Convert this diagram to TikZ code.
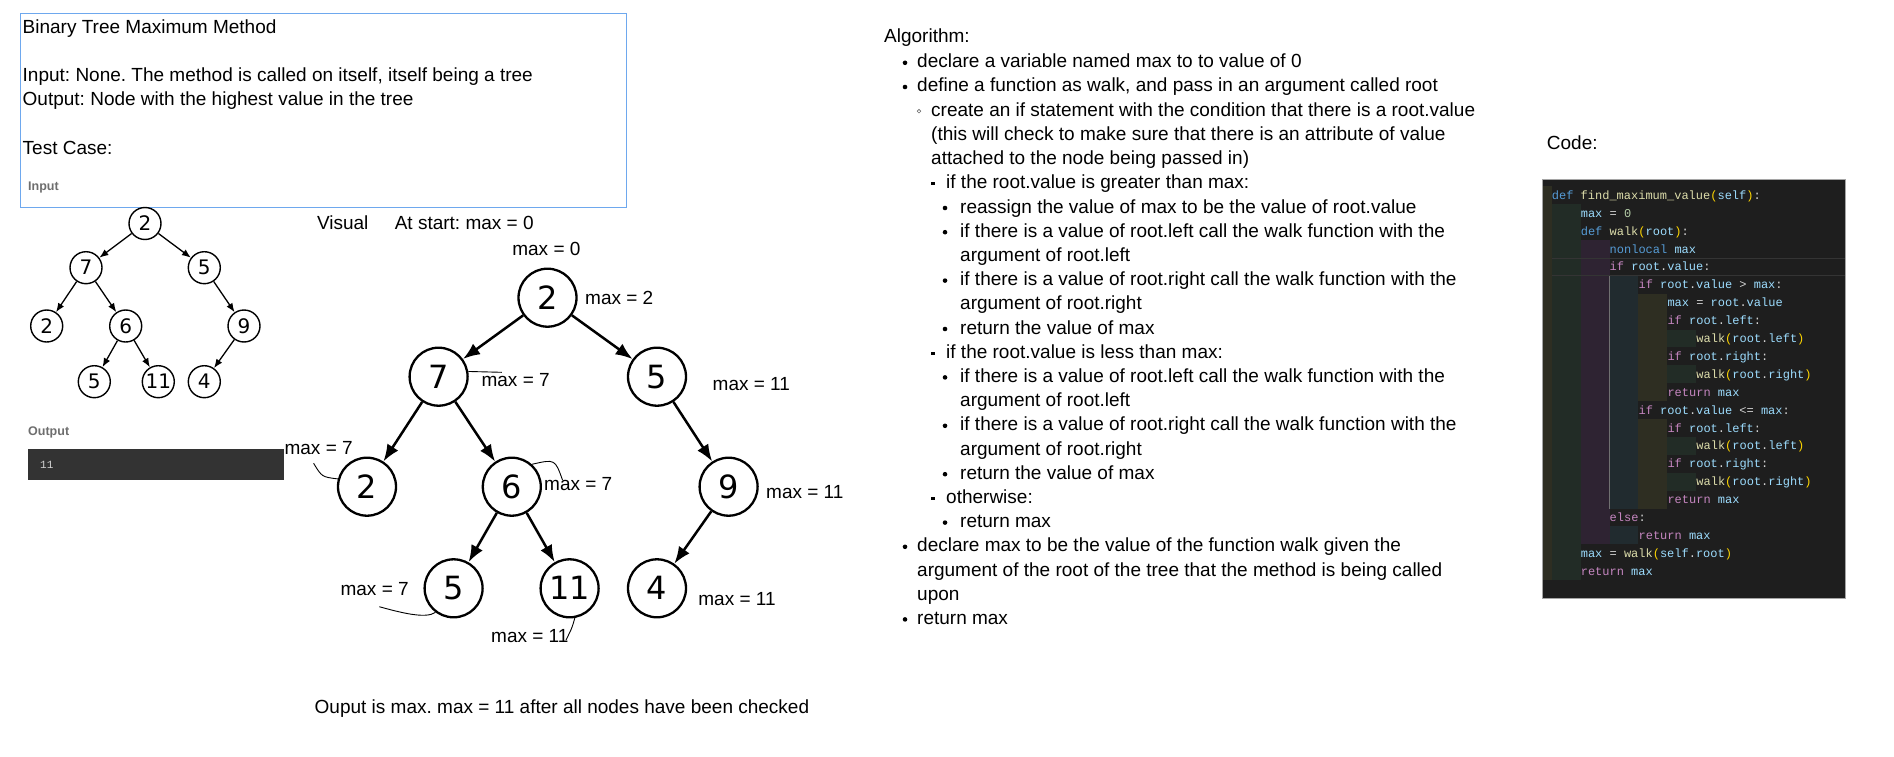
\documentclass[tikz,border=0pt]{standalone}
\usepackage{fontspec}
\setmainfont{Liberation Sans}
\newfontfamily\codefont{Liberation Mono}
\newfontfamily\treefont{DejaVu Sans}
\usetikzlibrary{arrows.meta}
\frenchspacing

\definecolor{boxblue}{RGB}{110,168,238}
\definecolor{labelgray}{RGB}{110,110,110}
\definecolor{outbg}{RGB}{51,51,51}
\definecolor{outtext}{RGB}{210,210,210}
\definecolor{codebg}{RGB}{30,30,30}
\definecolor{codeborder}{RGB}{165,165,165}
\definecolor{cplain}{RGB}{212,212,212}
\definecolor{cdef}{RGB}{86,156,214}
\definecolor{cctl}{RGB}{197,134,192}
\definecolor{cfun}{RGB}{220,220,170}
\definecolor{cvar}{RGB}{156,220,254}
\definecolor{cpar}{RGB}{255,215,0}
\definecolor{cnum}{RGB}{181,206,168}
\definecolor{indA}{RGB}{46,46,34}
\definecolor{indB}{RGB}{34,44,38}
\definecolor{indC}{RGB}{46,35,50}
\definecolor{indD}{RGB}{33,43,47}
\definecolor{curline}{RGB}{52,52,52}
\definecolor{guide}{RGB}{112,112,112}

\newcommand\bodyfs{\fontsize{19pt}{24.2pt}\selectfont}
\newcommand\kw[1]{\textcolor{cctl}{#1}}
\newcommand\df[1]{\textcolor{cdef}{#1}}
\newcommand\fn[1]{\textcolor{cfun}{#1}}
\newcommand\vr[1]{\textcolor{cvar}{#1}}
\newcommand\pn[1]{\textcolor{cpar}{#1}}
\newcommand\nm[1]{\textcolor{cnum}{#1}}

\tikzset{
  txt/.style={anchor=base west, inner sep=0pt, font=\bodyfs},
  smalllabel/.style={anchor=base west, inner sep=0pt, text=labelgray, font=\bfseries\fontsize{12.5pt}{14pt}\selectfont},
  bignode/.style={circle, draw, line width=2.3pt, minimum size=58pt, inner sep=0pt, font=\treefont\fontsize{32pt}{32pt}\selectfont},
  smallnode/.style={circle, draw, line width=1.4pt, minimum size=32pt, inner sep=0pt, font=\treefont\fontsize{20pt}{20pt}\selectfont},
  bigedge/.style={line width=2.5pt, -{Latex[length=17pt,width=13pt]}},
  smalledge/.style={line width=1.3pt, -{Latex[length=9pt,width=7pt]}},
  handline/.style={line width=0.9pt},
  codeline/.style={anchor=base west, inner sep=0pt, text=cplain, font=\codefont\fontsize{12pt}{12pt}\selectfont},
}

\begin{document}
\begin{tikzpicture}[x=1pt,y=-1pt]
\path[fill=white] (0,0) rectangle (1894,757);

% problem statement
\draw[boxblue, line width=1pt] (20.5,13.3) rectangle (626,207.8);
\node[txt] (title) at (22.5,33.3) {Binary Tree Maximum Method};
\node[txt] (inp) at (22.5,81.8) {Input: None. The method is called on itself, itself being a tree};
\node[txt] (outp) at (22.5,106) {Output: Node with the highest value in the tree};
\node[txt] (test) at (22.5,154.4) {Test Case:};
\node[smalllabel] (inlabel) at (28,190.5) {Input};

% input tree
\node[smallnode] (s2) at (145,223.5) {2};
\node[smallnode] (s7) at (86,267.7) {7};
\node[smallnode] (s5) at (204.3,267.7) {5};
\node[smallnode] (s2b) at (46.7,326) {2};
\node[smallnode] (s6) at (125.7,326) {6};
\node[smallnode] (s9) at (244,326) {9};
\node[smallnode] (s5b) at (94.3,381.7) {5};
\node[smallnode] (s11) at (158.3,381.7) {11};
\node[smallnode] (s4) at (204.3,381.7) {4};
\draw[smalledge] (s2) -- (s7);
\draw[smalledge] (s2) -- (s5);
\draw[smalledge] (s7) -- (s2b);
\draw[smalledge] (s7) -- (s6);
\draw[smalledge] (s5) -- (s9);
\draw[smalledge] (s6) -- (s5b);
\draw[smalledge] (s6) -- (s11);
\draw[smalledge] (s9) -- (s4);

\node[smalllabel] (outlabel) at (28,435.5) {Output};
\fill[outbg] (28.3,449) rectangle (284,480);
\node[anchor=base west, inner sep=0pt, text=outtext, font=\codefont\fontsize{11pt}{11pt}\selectfont] (outval) at (40,468) {11};

% visual walk
\node[txt] (visual) at (316.8,229.5) {Visual};
\node[txt] (start) at (394.6,229.5) {At start: max = 0};

\node[bignode] (b2) at (547.5,297.7) {2};
\node[bignode] (b7) at (438.6,376.7) {7};
\node[bignode] (b5) at (657,376.7) {5};
\node[bignode] (b2b) at (367,486.7) {2};
\node[bignode] (b6) at (511.8,486.7) {6};
\node[bignode] (b9) at (728.6,486.7) {9};
\node[bignode] (b5b) at (453.6,588.3) {5};
\node[bignode] (b11) at (569.6,588.3) {11};
\node[bignode] (b4) at (657,588.3) {4};
\draw[bigedge] (b2) -- (b7);
\draw[bigedge] (b2) -- (b5);
\draw[bigedge] (b7) -- (b2b);
\draw[bigedge] (b7) -- (b6);
\draw[bigedge] (b5) -- (b9);
\draw[bigedge] (b6) -- (b5b);
\draw[bigedge] (b6) -- (b11);
\draw[bigedge] (b9) -- (b4);

\node[txt, anchor=base] (m0) at (546.4,255.1) {max = 0};
\node[txt] (m2) at (585,304.5) {max = 2};
\node[txt] (m7a) at (481.4,386.8) {max = 7};
\node[txt] (m11a) at (712.5,390.8) {max = 11};
\node[txt] (m7b) at (284.4,454.8) {max = 7};
\node[txt] (m7c) at (544,490.1) {max = 7};
\node[txt] (m11b) at (766,498.5) {max = 11};
\node[txt] (m7d) at (340.4,595.8) {max = 7};
\node[txt] (m11c) at (491,642.8) {max = 11};
\node[txt] (m11d) at (698.2,605.1) {max = 11};

\coordinate (t7) at (501.8,372.3);
\coordinate (t2b) at (313.6,463.3);
\coordinate (t6) at (562.5,480);
\coordinate (t5b) at (379.3,606.7);
\coordinate (t11) at (566,640);
\draw[handline] (b7.10) -- (t7);
\draw[handline] (t2b) .. controls (322,477) .. (b2b.165);
\draw[handline] (b6.48) .. controls (555,459) .. (t6);
\draw[handline] (t5b) .. controls (402,613) and (426,619) .. (b5b.233);
\draw[handline] (b11.280) .. controls (572,628) .. (t11);

\node[txt] (result) at (314.5,713.5) {Ouput is max. max = 11 after all nodes have been checked};

% algorithm
\node[txt] (alg) at (884,42.8) {Algorithm:};
\foreach \y in {62.8,87,546.8,619.4}
  \fill (905,\y) circle (2.3);
\draw[labelgray, line width=0.6pt] (919,111.2) circle (1.8);
\foreach \y in {183.8,353.2,498.4}
  \fill (931.4,\y-1.6) rectangle (934.6,\y+1.6);
\foreach \y in {208,232.2,280.6,329,377.4,425.8,474.2,522.6}
  \fill (945,\y) circle (2.3);

\node[txt] (a1) at (917,67.8) {declare a variable named max to to value of 0};
\node[txt] (a2) at (917,92) {define a function as walk, and pass in an argument called root};
\node[txt] (a3) at (931,116.2) {create an if statement with the condition that there is a root.value};
\node[txt] (a4) at (931,140.4) {(this will check to make sure that there is an attribute of value};
\node[txt] (a5) at (931,164.6) {attached to the node being passed in)};
\node[txt] (a6) at (946,188.8) {if the root.value is greater than max:};
\node[txt] (a7) at (960,213) {reassign the value of max to be the value of root.value};
\node[txt] (a8) at (960,237.2) {if there is a value of root.left call the walk function with the};
\node[txt] (a9) at (960,261.4) {argument of root.left};
\node[txt] (a10) at (960,285.6) {if there is a value of root.right call the walk function with the};
\node[txt] (a11) at (960,309.8) {argument of root.right};
\node[txt] (a12) at (960,334) {return the value of max};
\node[txt] (a13) at (946,358.2) {if the root.value is less than max:};
\node[txt] (a14) at (960,382.4) {if there is a value of root.left call the walk function with the};
\node[txt] (a15) at (960,406.6) {argument of root.left};
\node[txt] (a16) at (960,430.8) {if there is a value of root.right call the walk function with the};
\node[txt] (a17) at (960,455) {argument of root.right};
\node[txt] (a18) at (960,479.2) {return the value of max};
\node[txt] (a19) at (946,503.4) {otherwise:};
\node[txt] (a20) at (960,527.6) {return max};
\node[txt] (a21) at (917,551.8) {declare max to be the value of the function walk given the};
\node[txt] (a22) at (917,576) {argument of the root of the tree that the method is being called};
\node[txt] (a23) at (917,600.2) {upon};
\node[txt] (a24) at (917,624.4) {return max};

% code
\node[txt] (codehead) at (1546.7,149.8) {Code:};
\filldraw[fill=codebg, draw=codeborder, line width=0.8pt] (1542.7,179.3) rectangle (1845.7,598);
\fill[indA] (1543.1,186.35) rectangle (1551.7,580.15);
\fill[indB] (1551.7,204.25) rectangle (1580.6,580.15);
\fill[indC] (1580.6,240.05) rectangle (1609.5,544.35);
\fill[indD] (1609.5,275.85) rectangle (1638.4,508.55);
\fill[indD] (1609.5,526.45) rectangle (1638.4,544.35);
\fill[indA] (1638.4,293.75) rectangle (1667.3,401.15);
\fill[indA] (1638.4,419.05) rectangle (1667.3,508.55);
\foreach \y in {329.55,365.35,436.95,472.75}
  \fill[indB] (1667.3,\y) rectangle (1696.2,\y+17.9);
\draw[curline, line width=0.8pt] (1551.7,257.95) -- (1845.3,257.95);
\draw[curline, line width=0.8pt] (1551.7,275.85) -- (1845.3,275.85);
\draw[guide, line width=0.8pt] (1609.5,275.85) -- (1609.5,508.55);

\node[codeline] (c1) at (1551.7,199.3) {\df{def} \fn{find\_maximum\_value}\pn{(}\vr{self}\pn{)}:};
\node[codeline] (c2) at (1580.6,217.2) {\vr{max} = \nm{0}};
\node[codeline] (c3) at (1580.6,235.1) {\df{def} \fn{walk}\pn{(}\vr{root}\pn{)}:};
\node[codeline] (c4) at (1609.5,253) {\df{nonlocal} \vr{max}};
\node[codeline] (c5) at (1609.5,270.9) {\kw{if} \vr{root}.\vr{value}:};
\node[codeline] (c6) at (1638.4,288.8) {\kw{if} \vr{root}.\vr{value} > \vr{max}:};
\node[codeline] (c7) at (1667.3,306.7) {\vr{max} = \vr{root}.\vr{value}};
\node[codeline] (c8) at (1667.3,324.6) {\kw{if} \vr{root}.\vr{left}:};
\node[codeline] (c9) at (1696.2,342.5) {\fn{walk}\pn{(}\vr{root}.\vr{left}\pn{)}};
\node[codeline] (c10) at (1667.3,360.4) {\kw{if} \vr{root}.\vr{right}:};
\node[codeline] (c11) at (1696.2,378.3) {\fn{walk}\pn{(}\vr{root}.\vr{right}\pn{)}};
\node[codeline] (c12) at (1667.3,396.2) {\kw{return} \vr{max}};
\node[codeline] (c13) at (1638.4,414.1) {\kw{if} \vr{root}.\vr{value} <= \vr{max}:};
\node[codeline] (c14) at (1667.3,432) {\kw{if} \vr{root}.\vr{left}:};
\node[codeline] (c15) at (1696.2,449.9) {\fn{walk}\pn{(}\vr{root}.\vr{left}\pn{)}};
\node[codeline] (c16) at (1667.3,467.8) {\kw{if} \vr{root}.\vr{right}:};
\node[codeline] (c17) at (1696.2,485.7) {\fn{walk}\pn{(}\vr{root}.\vr{right}\pn{)}};
\node[codeline] (c18) at (1667.3,503.6) {\kw{return} \vr{max}};
\node[codeline] (c19) at (1609.5,521.5) {\kw{else}:};
\node[codeline] (c20) at (1638.4,539.4) {\kw{return} \vr{max}};
\node[codeline] (c21) at (1580.6,557.3) {\vr{max} = \fn{walk}\pn{(}\vr{self}.\vr{root}\pn{)}};
\node[codeline] (c22) at (1580.6,575.2) {\kw{return} \vr{max}};
\end{tikzpicture}
\end{document}
